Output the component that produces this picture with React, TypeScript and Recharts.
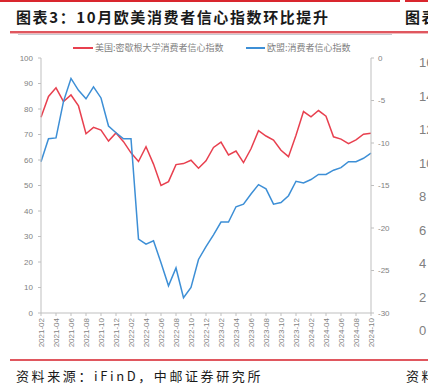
import React from "react";
import { LineChart, Line, XAxis, YAxis } from "recharts";

const months: string[] = [
  "2021-02","2021-03","2021-04","2021-05","2021-06","2021-07","2021-08","2021-09","2021-10","2021-11","2021-12",
  "2022-01","2022-02","2022-03","2022-04","2022-05","2022-06","2022-07","2022-08","2022-09","2022-10","2022-11","2022-12",
  "2023-01","2023-02","2023-03","2023-04","2023-05","2023-06","2023-07","2023-08","2023-09","2023-10","2023-11","2023-12",
  "2024-01","2024-02","2024-03","2024-04","2024-05","2024-06","2024-07","2024-08","2024-09","2024-10",
];

const usMichigan: number[] = [
  76.8, 84.9, 88.3, 82.9, 85.5, 81.2, 70.3, 72.8, 71.7, 67.4, 70.6,
  67.2, 62.8, 59.4, 65.2, 58.4, 50.0, 51.5, 58.2, 58.6, 59.9, 56.8, 59.7,
  64.9, 67.0, 62.0, 63.5, 59.0, 64.4, 71.5, 69.4, 67.8, 63.8, 61.3, 69.7,
  79.0, 76.9, 79.4, 77.2, 69.1, 68.2, 66.4, 67.9, 70.1, 70.5,
];

const euConfidence: number[] = [
  -12.2, -9.5, -9.4, -5.1, -2.4, -3.8, -4.8, -3.4, -4.7, -8.0, -8.8,
  -9.5, -9.5, -21.3, -21.9, -21.5, -24.1, -26.8, -24.7, -28.2, -27.0, -23.7, -22.2,
  -20.8, -19.3, -19.3, -17.5, -17.2, -16.0, -14.9, -15.4, -17.2, -17.0, -16.2, -14.5,
  -14.7, -14.3, -13.7, -13.7, -13.2, -12.9, -12.2, -12.2, -11.8, -11.2,
];

const leftTicks: number[] = [0, 10, 20, 30, 40, 50, 60, 70, 80, 90, 100];
const rightTicks: number[] = [0, -5, -10, -15, -20, -25, -30];
const nextChartTicks: string[] = ["16", "14", "12", "10", "8", "6", "4", "2", "0"];

const usName = "美国:密歇根大学消费者信心指数";
const euName = "欧盟:消费者信心指数";
const title = "图表3：10月欧美消费者信心指数环比提升";
const source = "资料来源：iFinD，中邮证券研究所";

const data = months.map((m, i) => ({ month: m, us: usMichigan[i], eu: euConfidence[i] }));

const RED = "#E8404F";
const BLUE = "#3D8FD6";
const AXIS = "#BFBFBF";
const TXT = "#7F7F7F";
const NUMFONT = "'Liberation Sans', Arial, sans-serif";
const CJK = "'Noto Sans CJK SC', sans-serif";

const XTick = (props: any) => {
  const { x, y, payload } = props;
  return (
    <text
      x={x}
      y={y}
      transform={`rotate(-90 ${x} ${y})`}
      textAnchor="end"
      dy={3}
      fontSize={8}
      fontFamily={NUMFONT}
      fill={TXT}
    >
      {payload.value}
    </text>
  );
};

export default function App() {
  return (
    <div
      style={{
        position: "absolute",
        left: 0,
        top: 0,
        width: 428,
        height: 390,
        overflow: "hidden",
        background: "#fff",
      }}
    >
      {/* top rule */}
      <div style={{ position: "absolute", left: 0, top: 0, width: 400, height: 1.5, background: "#D9262E" }} />
      <div style={{ position: "absolute", left: 405, top: 0, width: 23, height: 1.5, background: "#D9262E" }} />
      {/* title */}
      <div
        style={{
          position: "absolute",
          left: 16,
          top: 7,
          fontFamily: CJK,
          fontWeight: 700,
          fontSize: 15,
          letterSpacing: 1.6,
          color: "#1a1a1a",
          whiteSpace: "nowrap",
          lineHeight: "20px",
        }}
      >
        {title}
      </div>
      <div
        style={{
          position: "absolute",
          left: 405,
          top: 7,
          fontFamily: CJK,
          fontWeight: 700,
          fontSize: 15,
          letterSpacing: 1.6,
          color: "#1a1a1a",
          whiteSpace: "nowrap",
          lineHeight: "20px",
        }}
      >
        图表4
      </div>
      {/* title underline */}
      <div style={{ position: "absolute", left: 10, top: 31, width: 418, height: 1.5, background: "#E0575F" }} />
      <div style={{ position: "absolute", left: 10, top: 32.5, width: 418, height: 1, background: "#F2B8BB" }} />
      <div style={{ position: "absolute", left: 18, top: 34, width: 374, height: 1, background: "#C8C8D0" }} />

      {/* legend */}
      <div style={{ position: "absolute", left: 73, top: 47, width: 20, height: 1.5, background: RED }} />
      <div
        style={{
          position: "absolute",
          left: 95,
          top: 42,
          fontFamily: CJK,
          fontSize: 9,
          color: TXT,
          whiteSpace: "nowrap",
          lineHeight: "11px",
        }}
      >
        {usName}
      </div>
      <div style={{ position: "absolute", left: 246, top: 47, width: 19, height: 1.5, background: BLUE }} />
      <div
        style={{
          position: "absolute",
          left: 267,
          top: 42,
          fontFamily: CJK,
          fontSize: 9,
          color: TXT,
          whiteSpace: "nowrap",
          lineHeight: "11px",
        }}
      >
        {euName}
      </div>

      <div style={{ position: "absolute", left: 0, top: 0 }}>
        <LineChart
          width={428}
          height={349}
          data={data}
          margin={{ top: 58, right: 7, bottom: 0, left: 0 }}
        >
          <XAxis
            dataKey="month"
            interval={1}
            height={36}
            tickSize={3}
            tickMargin={2}
            stroke={AXIS}
            tickLine={{ stroke: AXIS }}
            tick={<XTick />}
          />
          <YAxis
            yAxisId="left"
            orientation="left"
            width={41}
            domain={[0, 100]}
            ticks={leftTicks}
            tickSize={3}
            tickMargin={5}
            stroke={AXIS}
            tick={{ fontSize: 8, fill: TXT, fontFamily: NUMFONT }}
          />
          <YAxis
            yAxisId="right"
            orientation="right"
            width={50}
            domain={[-30, 0]}
            ticks={rightTicks}
            tickSize={3}
            tickMargin={4}
            stroke={AXIS}
            tick={{ fontSize: 8, fill: TXT, fontFamily: NUMFONT, textAnchor: "start" }}
          />
          <Line
            yAxisId="left"
            type="linear"
            dataKey="us"
            name={usName}
            stroke={RED}
            strokeWidth={1.5}
            dot={false}
            isAnimationActive={false}
          />
          <Line
            yAxisId="right"
            type="linear"
            dataKey="eu"
            name={euName}
            stroke={BLUE}
            strokeWidth={1.5}
            dot={false}
            isAnimationActive={false}
          />
        </LineChart>
      </div>

      {/* next chart fragments on the right */}
      {nextChartTicks.map((t, i) => (
        <div
          key={t}
          style={{
            position: "absolute",
            left: 419,
            top: 56 + i * 33.5,
            fontFamily: NUMFONT,
            fontSize: 13,
            color: "#808080",
            lineHeight: "14px",
          }}
        >
          {t}
        </div>
      ))}

      {/* bottom rule + source */}
      <div style={{ position: "absolute", left: 10, top: 359, width: 418, height: 1.5, background: "#E0575F" }} />
      <div
        style={{
          position: "absolute",
          left: 16,
          top: 368,
          fontFamily: CJK,
          fontSize: 13,
          letterSpacing: 2.6,
          color: "#1a1a1a",
          whiteSpace: "nowrap",
          lineHeight: "16px",
        }}
      >
        {source}
      </div>
      <div
        style={{
          position: "absolute",
          left: 406,
          top: 368,
          fontFamily: CJK,
          fontSize: 13,
          letterSpacing: 2.6,
          color: "#1a1a1a",
          whiteSpace: "nowrap",
          lineHeight: "16px",
        }}
      >
        资料来源
      </div>
    </div>
  );
}
